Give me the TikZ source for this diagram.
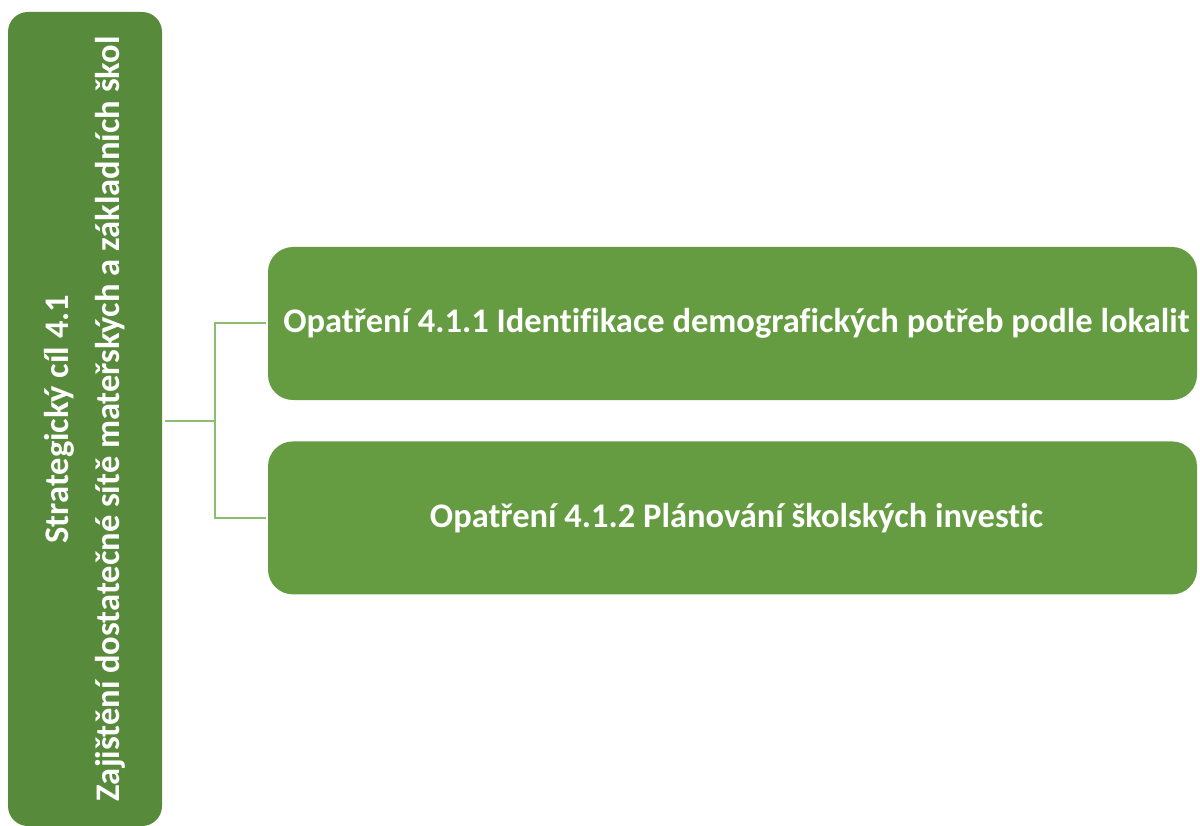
\documentclass[tikz,border=0pt]{standalone}
\usepackage{fontspec}
\setmainfont{Carlito}[Ligatures=CommonOff]
\usetikzlibrary{positioning}

\definecolor{goalgreen}{HTML}{578A3A}
\definecolor{stepgreen}{HTML}{669C41}
\definecolor{linkgreen}{HTML}{8CBD6E}

\begin{document}
\begin{tikzpicture}[
  x=1pt, y=1pt,
  goalbox/.style={fill=goalgreen, rounded corners=20pt, minimum width=814pt, minimum height=154pt, align=center, text=white, font=\fontsize{34.5}{51}\selectfont\bfseries, inner sep=0pt},
  stepbox/.style={fill=stepgreen, rounded corners=25pt, minimum width=929pt, minimum height=153pt, align=center, text=white, font=\fontsize{34.5}{41}\selectfont\bfseries, inner sep=0pt},
  link/.style={draw=linkgreen, line width=2pt, shorten >=2pt}
]
\useasboundingbox (0,0) rectangle (1200,-826);
\node[goalbox, rotate=90] (goal) at (85,-419) {Strategický cíl 4.1\\Zajištění dostatečné sítě mateřských a základních škol};
\node[stepbox] (m1) at (732.5,-323.5) {\hspace*{8pt}Opatření 4.1.1 Identifikace demografických potřeb podle lokalit};
\node[stepbox, below=41pt of m1] (m2) {\hspace*{8pt}Opatření 4.1.2 Plánování školských investic};
\draw[link] (goal.south) ++(3,-2) -- ++(50,0) coordinate (fork) |- (m1.west);
\draw[link] (fork) |- (m2.west);
\end{tikzpicture}
\end{document}
